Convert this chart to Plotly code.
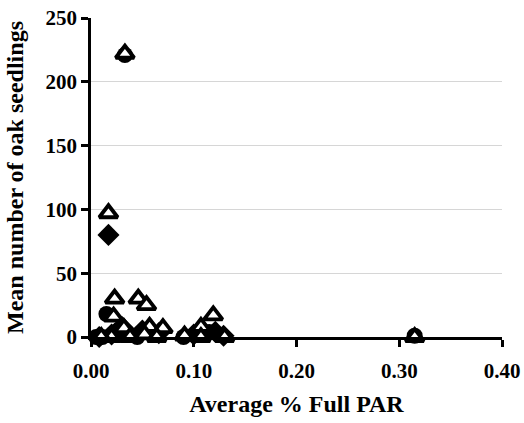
import plotly.graph_objects as go

# Average % full PAR vs mean oak seedling counts, three plot groups
tri_x = [0.033, 0.017, 0.023, 0.046, 0.054, 0.022, 0.032, 0.057, 0.070, 0.020,
         0.038, 0.052, 0.064, 0.091, 0.107, 0.119, 0.107, 0.130, 0.315, 0.010]
tri_y = [222, 97, 30, 30, 25, 16, 7, 8, 7, 0,
         0, 2, 0, 1, 8, 17, 0, 0, 0, 0]

circ_x = [0.033, 0.005, 0.011, 0.015, 0.026, 0.036, 0.045, 0.060, 0.090, 0.115, 0.315]
circ_y = [221, 0, 0, 18, 5, 3, 0, 2, 0, 4, 1]

dia_x = [0.017, 0.008, 0.020, 0.030, 0.050, 0.066, 0.100, 0.121, 0.129]
dia_y = [80, 0, 2, 8, 5, 3, 2, 4, 1]

x_ticks = [0.0, 0.1, 0.2, 0.3, 0.4]
x_tick_text = ["0.00", "0.10", "0.20", "0.30", "0.40"]
y_ticks = [0, 50, 100, 150, 200, 250]

FONT = "Liberation Serif"

fig = go.Figure()
fig.add_trace(go.Scatter(
    x=circ_x, y=circ_y, mode="markers", cliponaxis=False,
    marker=dict(symbol="circle", size=16, color="black"),
))
fig.add_trace(go.Scatter(
    x=dia_x, y=dia_y, mode="markers", cliponaxis=False,
    marker=dict(symbol="diamond", size=17, color="black"),
))
fig.add_trace(go.Scatter(
    x=tri_x, y=tri_y, mode="markers", cliponaxis=False,
    marker=dict(symbol="triangle-up", size=16, color="white",
                line=dict(color="black", width=3.8)),
))

fig.update_layout(
    width=524, height=423,
    margin=dict(l=91, r=22, t=18, b=86),
    paper_bgcolor="white", plot_bgcolor="white",
    showlegend=False,
    font=dict(family=FONT, color="black"),
)
fig.update_xaxes(
    range=[0, 0.40], tickvals=x_ticks, ticktext=x_tick_text,
    automargin=False,
    showline=True, linecolor="black", linewidth=2.5,
    ticks="outside", ticklen=7, tickwidth=2.5, tickcolor="black",
    ticklabelstandoff=6,
    showgrid=False, zeroline=False,
    tickfont=dict(family=FONT, size=21, weight="bold"),
    title=dict(text="Average % Full PAR", standoff=14,
               font=dict(family=FONT, size=24, weight="bold")),
)
fig.update_yaxes(
    range=[0, 250], tickvals=y_ticks,
    automargin=False,
    showline=True, linecolor="black", linewidth=2.5,
    ticks="outside", ticklen=7, tickwidth=2.5, tickcolor="black",
    showgrid=True, gridcolor="#d6d6d6", gridwidth=1, zeroline=False,
    tickfont=dict(family=FONT, size=21, weight="bold"),
    title=dict(text="Mean number of oak seedlings", standoff=16,
               font=dict(family=FONT, size=24, weight="bold")),
)

fig.write_html("out.html")
